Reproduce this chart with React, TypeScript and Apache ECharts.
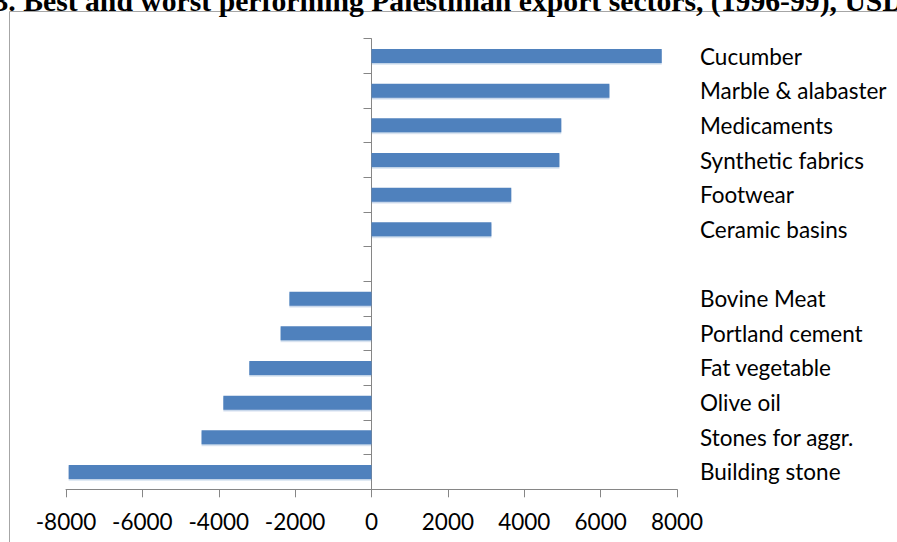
import React, { useEffect, useRef } from "react";
import * as echarts from "echarts";

const categories = [
  "Cucumber",
  "Marble & alabaster",
  "Medicaments",
  "Synthetic fabrics",
  "Footwear",
  "Ceramic basins",
  "",
  "Bovine Meat",
  "Portland cement",
  "Fat vegetable",
  "Olive oil",
  "Stones for aggr.",
  "Building stone",
];
const values: (number | null)[] = [
  7600, 6230, 4970, 4920, 3660, 3140, null, -2150, -2380, -3200, -3880, -4450, -7930,
];
const xTicks = { min: -8000, max: 8000, interval: 2000 };
const title = "3. Best and worst performing Palestinian export sectors, (1996-99), USD";

const AXIS = "#868686";
const LABEL_FONT = "Lato";

export default function App() {
  const ref = useRef<HTMLDivElement>(null);
  useEffect(() => {
    if (!ref.current) return;
    const chart = echarts.init(ref.current, null, { renderer: "svg" });
    chart.setOption({
      animation: false,
      backgroundColor: "#ffffff",
      graphic: [
        {
          type: "rect",
          shape: { x: 9.5, y: 11.5, width: 1000, height: 600 },
          style: { fill: "none", stroke: "#a6a6a6", lineWidth: 1 },
          z: -1,
        },
        {
          type: "text",
          x: -6.5,
          y: -14.5,
          style: {
            text: title,
            font: "bold 29.7px 'Liberation Serif'",
            fill: "#000",
          },
        },
      ],
      grid: { left: 66, right: 220, top: 38.7, bottom: 52.7, containLabel: false },
      xAxis: {
        type: "value",
        min: xTicks.min,
        max: xTicks.max,
        interval: xTicks.interval,
        splitLine: { show: false },
        axisLine: { show: true, lineStyle: { color: AXIS, width: 1 } },
        axisTick: { show: true, length: 8, lineStyle: { color: AXIS } },
        axisLabel: {
          color: "#000",
          fontFamily: LABEL_FONT,
          fontSize: 22.5,
          margin: 21,
          formatter: (v: number) => String(v),
        },
      },
      yAxis: [
        {
          type: "category",
          data: categories,
          inverse: true,
          position: "left",
          axisLine: { show: true, onZero: true, lineStyle: { color: AXIS, width: 1 } },
          axisTick: { show: true, length: 8, lineStyle: { color: AXIS } },
          axisLabel: { show: false },
          splitLine: { show: false },
        },
        {
          type: "category",
          data: categories,
          inverse: true,
          position: "right",
          axisLine: { show: false },
          axisTick: { show: false },
          axisLabel: {
            show: true,
            color: "#000",
            fontFamily: LABEL_FONT,
            fontSize: 22.5,
            margin: 23,
            align: "left",
          },
          splitLine: { show: false },
        },
      ],
      series: [
        {
          type: "bar",
          yAxisIndex: 0,
          data: values,
          barWidth: 14,
          itemStyle: {
            color: "#4f81bd",
            shadowColor: "rgba(79,129,189,0.35)",
            shadowOffsetY: 1.5,
            shadowBlur: 0,
          },
        },
      ],
    });
    return () => chart.dispose();
  }, []);
  return (
    <div
      ref={ref}
      style={{ position: "fixed", left: 0, top: 0, width: 897, height: 542 }}
    />
  );
}
